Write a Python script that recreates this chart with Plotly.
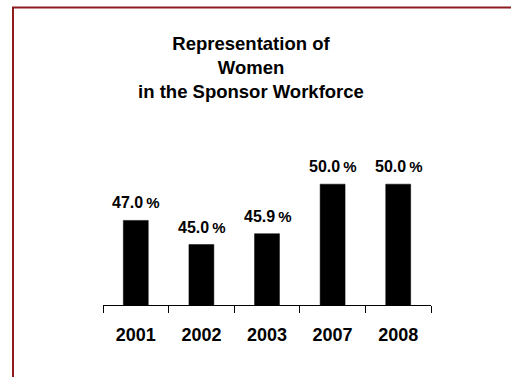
import plotly.graph_objects as go

# Share of women in the sponsor workforce, by year
years = ["2001", "2002", "2003", "2007", "2008"]
women_pct = [47.0, 45.0, 45.9, 50.0, 50.0]

W, H = 511, 377
L, R, T, B = 103, 80, 160, 71.5
plot_w = W - L - R
plot_h = H - T - B

fig = go.Figure(
    go.Bar(
        x=years,
        y=women_pct,
        marker=dict(color="#000000", line=dict(color="#000000", width=0.5)),
        hoverinfo="skip",
    )
)

# value labels above each bar (category index keeps them on the right bar)
for i, v in enumerate(women_pct):
    fig.add_annotation(
        x=i, y=v, xref="x", yref="y",
        text=f"{v:.1f}<span style='font-size:15px'>\u2009%</span>",
        showarrow=False, yanchor="bottom", yshift=7,
        font=dict(family="Arial, Liberation Sans", size=16, color="#000000", weight="bold"),
    )

# dark red frame around the chart area
def px_x(px):
    return (px - L) / plot_w

def px_y(py):
    return (H - B - py) / plot_h

fig.add_shape(
    type="rect", xref="paper", yref="paper",
    x0=px_x(13), x1=px_x(530), y0=px_y(395), y1=px_y(7),
    line=dict(color="#8E1B1F", width=2), fillcolor="rgba(0,0,0,0)", layer="above",
)

fig.update_layout(
    width=W, height=H,
    margin=dict(l=L, r=R, t=T, b=B, pad=0),
    paper_bgcolor="#FFFFFF", plot_bgcolor="#FFFFFF",
    bargap=0.62,
    showlegend=False,
    title=dict(
        text="Representation of<br>Women<br>in the Sponsor Workforce",
        xref="container", yref="container",
        x=251 / W, xanchor="center",
        y=1 - 50 / H, yanchor="top",
        font=dict(family="Arial, Liberation Sans", size=18.5, color="#000000", weight="bold"),
    ),
    xaxis=dict(
        type="category",
        categoryorder="array", categoryarray=years,
        range=[-0.5, len(years) - 0.5],
        showline=True, linecolor="#000000", linewidth=1,
        ticks="outside", tickson="boundaries", ticklen=7, tickcolor="#000000", tickwidth=1,
        tickfont=dict(family="Arial, Liberation Sans", size=18, color="#000000", weight="bold"),
        ticklabelstandoff=13,
        showgrid=False, zeroline=False,
    ),
    yaxis=dict(
        range=[40, 52],
        visible=False, showgrid=False, zeroline=False,
    ),
)

fig.write_html("out.html")
